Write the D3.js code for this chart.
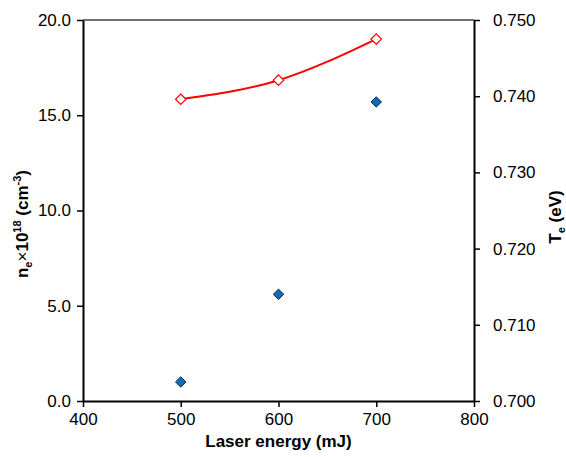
<!DOCTYPE html>
<html>
<head>
<meta charset="utf-8">
<script src="https://cdn.jsdelivr.net/npm/d3@7"></script>
<style>
  html, body { margin: 0; padding: 0; background: #fff; }
  svg { display: block; font-family: "Liberation Sans", Arial, sans-serif; }
</style>
</head>
<body>
<svg id="chart" width="566" height="457"></svg>
<script>
// Laser energy (mJ)
const energy = [500, 600, 700];
// Electron density, n_e x 10^18 cm^-3 (left axis)
const density = [1.0, 5.6, 15.7];
// Electron temperature, T_e in eV (right axis)
const temperature = [0.7396, 0.7421, 0.7475];

const xTicks = [400, 500, 600, 700, 800];
const yLeftTicks = [0, 5, 10, 15, 20];
const yRightTicks = [0.70, 0.71, 0.72, 0.73, 0.74, 0.75];

const svg = d3.select("#chart");
const plot = { left: 83, right: 474, top: 20, bottom: 401 };

const x = d3.scaleLinear().domain([400, 800]).range([plot.left, plot.right]);
const yL = d3.scaleLinear().domain([0, 20]).range([plot.bottom, plot.top]);
const yR = d3.scaleLinear().domain([0.70, 0.75]).range([plot.bottom, plot.top]);

// Frame: top border
svg.append("line")
  .attr("x1", plot.left).attr("x2", plot.right)
  .attr("y1", plot.top).attr("y2", plot.top)
  .attr("stroke", "#404040").attr("stroke-width", 1.5);

function styleAxis(g) {
  g.selectAll(".domain").attr("stroke", "#000").attr("stroke-width", 2);
  g.selectAll(".tick line").attr("stroke", "#000").attr("stroke-width", 1.5);
  g.selectAll(".tick text")
    .attr("font-family", "'Liberation Sans', Arial, sans-serif")
    .attr("font-size", 17).attr("fill", "#000");
}

// Bottom axis
svg.append("g")
  .attr("transform", `translate(0,${plot.bottom})`)
  .call(d3.axisBottom(x).tickValues(xTicks).tickFormat(d3.format("d"))
    .tickSizeInner(6).tickSizeOuter(0).tickPadding(6))
  .call(styleAxis);

// Left axis
svg.append("g")
  .attr("transform", `translate(${plot.left},0)`)
  .call(d3.axisLeft(yL).tickValues(yLeftTicks).tickFormat(d3.format(".1f"))
    .tickSizeInner(6).tickSizeOuter(0).tickPadding(6))
  .call(styleAxis);

// Right axis
svg.append("g")
  .attr("transform", `translate(${plot.right},0)`)
  .call(d3.axisRight(yR).tickValues(yRightTicks).tickFormat(d3.format(".3f"))
    .tickSizeInner(6).tickSizeOuter(0).tickPadding(13))
  .call(styleAxis);

// Axis titles
svg.append("text")
  .attr("x", (plot.left + plot.right) / 2).attr("y", 447)
  .attr("text-anchor", "middle")
  .attr("font-size", 17).attr("font-weight", "bold")
  .text("Laser energy (mJ)");

const leftTitle = svg.append("text")
  .attr("transform", "translate(28,224) rotate(-90)")
  .attr("text-anchor", "middle")
  .attr("font-size", 17).attr("font-weight", "bold");
leftTitle.append("tspan").text("n");
leftTitle.append("tspan").attr("font-size", 11).attr("dy", 4).text("e");
leftTitle.append("tspan").attr("dy", -4).attr("font-weight", "normal").text("×");
leftTitle.append("tspan").text("10");
leftTitle.append("tspan").attr("font-size", 11).attr("dy", -7).text("18");
leftTitle.append("tspan").attr("dy", 7).text(" (cm");
leftTitle.append("tspan").attr("font-size", 11).attr("dy", -7).text("-3");
leftTitle.append("tspan").attr("dy", 7).text(")");

const rightTitle = svg.append("text")
  .attr("transform", "translate(561,217) rotate(-90)")
  .attr("text-anchor", "middle")
  .attr("font-size", 17).attr("font-weight", "bold");
rightTitle.append("tspan").text("T");
rightTitle.append("tspan").attr("font-size", 11).attr("dy", 4).text("e");
rightTitle.append("tspan").attr("dy", -4).text(" (eV)");

// Trend curve through temperature points
const tempPts = energy.map((e, i) => [e, temperature[i]]);
svg.append("path")
  .datum(tempPts)
  .attr("fill", "none").attr("stroke", "#ff0000").attr("stroke-width", 2)
  .attr("d", d3.line().x(d => x(d[0])).y(d => yR(d[1])).curve(d3.curveNatural));

const diamond = d3.symbol().type(d3.symbolDiamond2);

// Temperature markers: hollow red diamonds
svg.append("g").selectAll("path")
  .data(tempPts)
  .join("path")
  .attr("transform", d => `translate(${x(d[0])},${yR(d[1])})`)
  .attr("d", diamond.size(70))
  .attr("fill", "#fff").attr("stroke", "#ff0000").attr("stroke-width", 1.2);

// Density markers: filled blue diamonds
svg.append("g").selectAll("path")
  .data(energy.map((e, i) => [e, density[i]]))
  .join("path")
  .attr("transform", d => `translate(${x(d[0])},${yL(d[1])})`)
  .attr("d", diamond.size(70))
  .attr("fill", "#0a6cbf").attr("stroke", "#1a2a3a").attr("stroke-width", 1);
</script>
</body>
</html>
